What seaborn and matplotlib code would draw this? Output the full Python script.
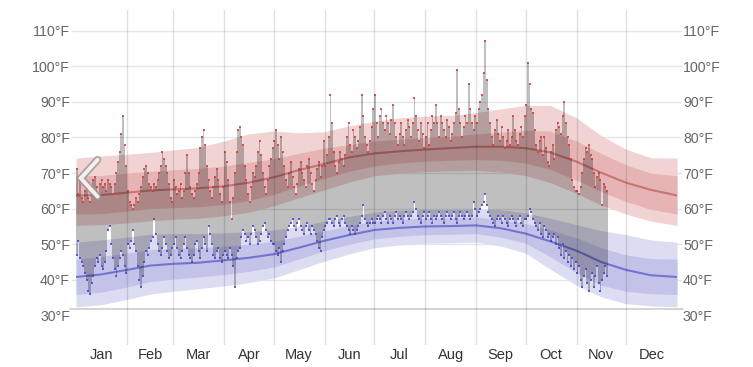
import numpy as np
import pandas as pd
import matplotlib
matplotlib.use('Agg')
import matplotlib.pyplot as plt
import seaborn as sns

# Climate normals, sampled twice a month (day of year)
norm_days = [0, 15, 31, 45, 59, 74, 90, 105, 120, 135, 151, 166, 181, 196, 212,
             227, 243, 258, 273, 288, 304, 319, 334, 349, 365]
hi_avg = [63.7, 63.8, 64.5, 65.1, 65.4, 65.7, 66.3, 67.3, 68.8, 70.8, 72.6, 74.4, 75.5,
          76.1, 76.6, 77.0, 77.4, 77.4, 77.0, 75.8, 73.2, 70.1, 67.3, 65.3, 63.7]
hi_p90 = [74.2, 74.8, 75.3, 75.8, 76.5, 77.2, 79.0, 81.0, 81.8, 81.3, 81.6, 83.3, 84.5,
          85.5, 86.0, 86.2, 87.0, 88.0, 89.0, 89.0, 85.5, 80.5, 76.7, 74.3, 74.2]
hi_p75 = [69.2, 69.3, 70.0, 70.5, 70.9, 71.3, 72.0, 73.0, 74.0, 75.5, 77.0, 78.0, 79.0,
          79.5, 80.0, 80.3, 81.0, 81.5, 82.0, 81.8, 79.0, 75.5, 72.3, 70.0, 69.2]
hi_p25 = [58.5, 58.6, 59.3, 60.0, 60.3, 60.5, 61.2, 62.3, 64.0, 66.3, 68.5, 70.5, 72.0,
          72.8, 73.3, 73.6, 73.8, 73.6, 72.8, 71.0, 68.0, 64.8, 62.0, 59.8, 58.5]
hi_p10 = [55.3, 55.5, 56.0, 56.6, 57.0, 57.3, 58.0, 59.0, 60.8, 63.0, 65.3, 67.5, 69.2,
          70.0, 70.4, 70.6, 70.7, 70.3, 69.3, 67.3, 64.3, 61.0, 58.5, 56.5, 55.3]
lo_avg = [40.8, 41.5, 42.8, 44.0, 44.5, 44.8, 45.5, 46.2, 47.2, 49.0, 51.0, 52.6, 54.0,
          54.6, 55.0, 55.1, 55.3, 54.5, 53.0, 50.8, 48.2, 45.0, 42.8, 41.3, 40.8]
lo_p90 = [50.6, 51.2, 52.0, 52.8, 53.0, 53.0, 53.2, 53.5, 54.0, 55.0, 56.5, 57.8, 59.0,
          59.5, 59.8, 59.8, 60.0, 59.7, 58.8, 57.3, 55.5, 53.8, 52.7, 51.2, 50.6]
lo_p75 = [45.8, 46.5, 47.5, 48.5, 48.8, 49.0, 49.5, 50.0, 50.8, 52.2, 53.8, 55.2, 56.5,
          57.0, 57.3, 57.4, 57.6, 57.0, 55.8, 54.0, 51.8, 49.0, 47.0, 46.0, 45.8]
lo_p25 = [35.9, 36.5, 38.0, 39.5, 40.2, 40.8, 41.5, 42.4, 43.6, 45.8, 48.2, 50.0, 51.5,
          52.2, 52.7, 52.8, 53.0, 52.0, 50.3, 46.5, 42.0, 38.5, 36.8, 36.1, 35.9]
lo_p10 = [32.4, 33.0, 34.5, 36.0, 36.8, 37.5, 38.3, 39.2, 40.5, 42.8, 45.3, 47.3, 49.0,
          49.8, 50.3, 50.4, 50.6, 49.5, 47.5, 43.0, 38.5, 35.2, 33.3, 32.7, 32.4]

# Observed daily highs / lows, Jan 1 - Nov 19
jan_hi = [71, 64, 68, 63, 62, 65, 67, 63, 62, 66, 68, 69, 66, 64, 67, 68, 66, 67, 65, 68,
          67, 66, 64, 67, 70, 73, 76, 81, 86, 78, 72]
jan_lo = [47, 51, 46, 45, 44, 42, 40, 37, 36, 39, 41, 44, 46, 45, 47, 44, 43, 45, 48, 54,
          55, 50, 46, 43, 41, 44, 46, 48, 47, 44, 42]
feb_hi = [65, 62, 61, 60, 61, 63, 62, 64, 66, 69, 71, 72, 70, 67, 66, 65, 67, 66, 68, 70,
          72, 76, 74, 72, 70, 67, 63, 62]
feb_lo = [50, 49, 51, 54, 50, 48, 44, 40, 38, 41, 45, 48, 47, 49, 51, 52, 57, 53, 50, 48,
          47, 49, 52, 50, 48, 46, 47, 49]
mar_hi = [68, 66, 64, 65, 67, 63, 65, 70, 75, 70, 66, 64, 63, 65, 67, 70, 77, 80, 82, 78,
          72, 68, 65, 63, 66, 69, 71, 68, 64, 62, 66]
mar_lo = [50, 52, 49, 47, 46, 48, 50, 52, 49, 47, 46, 45, 47, 50, 51, 48, 46, 49, 52, 50,
          48, 55, 53, 50, 47, 46, 48, 49, 46, 45, 47]
apr_hi = [76, 73, 68, 62, 57, 63, 70, 76, 82, 83, 80, 78, 72, 68, 64, 62, 66, 70, 69, 72,
          76, 79, 75, 70, 66, 64, 68, 72, 74, 77]
apr_lo = [48, 47, 46, 49, 47, 44, 38, 46, 48, 49, 52, 54, 53, 51, 52, 50, 53, 55, 54, 52,
          50, 51, 53, 55, 56, 54, 52, 53, 51, 50]
may_hi = [79, 82, 78, 74, 80, 76, 72, 68, 66, 70, 73, 69, 66, 64, 67, 71, 73, 70, 68, 66,
          72, 74, 70, 67, 65, 68, 71, 73, 69, 72, 79]
may_lo = [50, 48, 47, 49, 45, 48, 50, 52, 54, 55, 56, 57, 55, 54, 56, 57, 55, 54, 53, 55,
          56, 54, 53, 55, 54, 53, 51, 49, 48, 52, 54]
jun_hi = [72, 75, 80, 92, 84, 76, 72, 70, 73, 76, 74, 72, 75, 80, 84, 78, 76, 82, 80, 77,
          79, 83, 92, 86, 80, 78, 76, 79, 83, 88]
jun_lo = [55, 56, 57, 57, 56, 55, 57, 58, 56, 55, 57, 58, 56, 55, 54, 53, 55, 54, 53, 54,
          55, 56, 58, 61, 57, 56, 55, 56, 57, 56]
jul_hi = [92, 84, 80, 86, 88, 84, 82, 86, 84, 81, 85, 89, 84, 80, 78, 81, 84, 80, 78, 82,
          85, 83, 80, 84, 91, 86, 82, 79, 84, 81, 77]
jul_lo = [56, 57, 58, 57, 56, 58, 59, 57, 56, 58, 57, 56, 58, 59, 57, 58, 57, 56, 58, 59,
          58, 57, 58, 59, 62, 60, 58, 57, 56, 58, 59]
aug_hi = [80, 84, 78, 82, 86, 84, 89, 84, 80, 86, 84, 82, 80, 85, 83, 79, 81, 84, 87, 99,
          88, 84, 80, 83, 86, 84, 95, 88, 84, 82, 86]
aug_lo = [57, 58, 59, 57, 56, 58, 57, 58, 59, 58, 57, 56, 58, 59, 58, 57, 58, 59, 57, 56,
          58, 59, 58, 57, 58, 59, 58, 57, 58, 62, 60]
sep_hi = [84, 88, 90, 92, 98, 107, 96, 88, 84, 80, 78, 82, 85, 81, 79, 83, 80, 77, 79, 82,
          78, 80, 86, 82, 79, 78, 81, 83, 80, 86]
sep_lo = [58, 59, 60, 61, 62, 64, 61, 59, 58, 57, 56, 55, 57, 58, 57, 56, 58, 57, 56, 55,
          57, 58, 57, 56, 55, 57, 58, 56, 55, 57]
oct_hi = [89, 101, 95, 88, 87, 82, 78, 76, 79, 80, 75, 80, 77, 73, 72, 76, 78, 74, 82, 84,
          83, 81, 86, 90, 84, 80, 78, 74, 68, 66, 65]
oct_lo = [57, 58, 60, 59, 57, 56, 55, 54, 56, 53, 52, 55, 54, 52, 53, 51, 52, 53, 50, 52,
          49, 47, 50, 46, 48, 45, 47, 44, 46, 43, 45]
nov_hi = [65, 64, 66, 70, 74, 77, 76, 78, 75, 74, 70, 66, 69, 70, 68, 61, 67, 66, 65]
nov_lo = [42, 44, 40, 38, 41, 43, 39, 37, 40, 42, 38, 41, 44, 39, 37, 40, 42, 44, 41]

month_names = ['Jan', 'Feb', 'Mar', 'Apr', 'May', 'Jun', 'Jul', 'Aug', 'Sep', 'Oct', 'Nov', 'Dec']
month_starts = [0, 31, 59, 90, 120, 151, 181, 212, 243, 273, 304, 334, 365]

highs = jan_hi + feb_hi + mar_hi + apr_hi + may_hi + jun_hi + jul_hi + aug_hi + sep_hi + oct_hi + nov_hi
lows = jan_lo + feb_lo + mar_lo + apr_lo + may_lo + jun_lo + jul_lo + aug_lo + sep_lo + oct_lo + nov_lo
daily = pd.DataFrame({'day': np.arange(len(highs)) + 0.5, 'high': highs, 'low': lows})
norms = pd.DataFrame({'day': norm_days, 'hi_avg': hi_avg, 'lo_avg': lo_avg})

sns.set_theme(style='white')
plt.rcParams['font.family'] = ['Liberation Sans', 'DejaVu Sans']

fig = plt.figure(figsize=(7.53, 3.67), dpi=100)
ax = fig.add_axes([76 / 753, 22 / 367, 601 / 753, 335 / 367])

# percentile bands
ax.fill_between(norm_days, hi_p10, hi_p90, color='#f2d3d3', lw=0, zorder=1)
ax.fill_between(norm_days, hi_p25, hi_p75, color='#e6b4b4', lw=0, zorder=1.1)
ax.fill_between(norm_days, lo_p10, lo_p90, color='#dcdcf2', lw=0, zorder=1)
ax.fill_between(norm_days, lo_p25, lo_p75, color='#c3c3e9', lw=0, zorder=1.1)

# average lines
sns.lineplot(data=norms, x='day', y='hi_avg', color='#c77474', lw=1.5, ax=ax, zorder=2)
sns.lineplot(data=norms, x='day', y='lo_avg', color='#7474cf', lw=1.5, ax=ax, zorder=2)

# daily bars
ax.bar(daily['day'], daily['high'] - daily['low'], bottom=daily['low'], width=1.0,
       color='black', alpha=0.25, linewidth=0, zorder=3)
sns.scatterplot(data=daily, x='day', y='high', marker='s', s=1.3, color='#d83a3a',
                linewidth=0, alpha=0.85, ax=ax, zorder=4)
sns.scatterplot(data=daily, x='day', y='low', marker='s', s=1.3, color='#4646d2',
                linewidth=0, alpha=0.85, ax=ax, zorder=4)

ax.set_xlim(0, 365)
ax.set_ylim(21.7, 115.8)

# grid
for t in range(40, 111, 10):
    ax.axhline(t, xmin=-0.007, xmax=1.007, color='#e6e6e6', lw=1, zorder=0.5, clip_on=False)
ax.axhline(31.7, xmin=-0.01, xmax=1.01, color='#cccccc', lw=1.2, zorder=0.6, clip_on=False)
for m in month_starts[1:-1]:
    ax.axvline(m, color='black', lw=1, zorder=5, alpha=0.12)

yt = list(range(30, 111, 10))
ax.set_yticks(yt)
ax.set_yticklabels([f'{t}°F' for t in yt])
ax.tick_params(axis='y', which='both', left=False, right=False, length=0, labelleft=True,
               labelright=True, labelsize=10.2, labelcolor='#666666', pad=4.3)
centers = [(month_starts[i] + month_starts[i + 1]) / 2 for i in range(12)]
ax.set_xticks(centers)
ax.set_xticklabels(month_names)
ax.tick_params(axis='x', bottom=False, labelsize=10.5, labelcolor='#333333', pad=-4)
ax.set_xlabel('')
ax.set_ylabel('')
for s in ax.spines.values():
    s.set_visible(False)

# navigation chevron
chev_x = [0.036, 0.008, 0.036]
chev_y = [0.553, 0.498, 0.443]
ax.plot(chev_x, chev_y, transform=ax.transAxes, color='#a09898', lw=5.5, zorder=6,
        solid_capstyle='round', solid_joinstyle='miter', alpha=0.8)
ax.plot(chev_x, chev_y, transform=ax.transAxes, color='#f4f0f0', lw=2.8, zorder=7,
        solid_capstyle='round', solid_joinstyle='miter')

fig.savefig('out.png', dpi=100)
